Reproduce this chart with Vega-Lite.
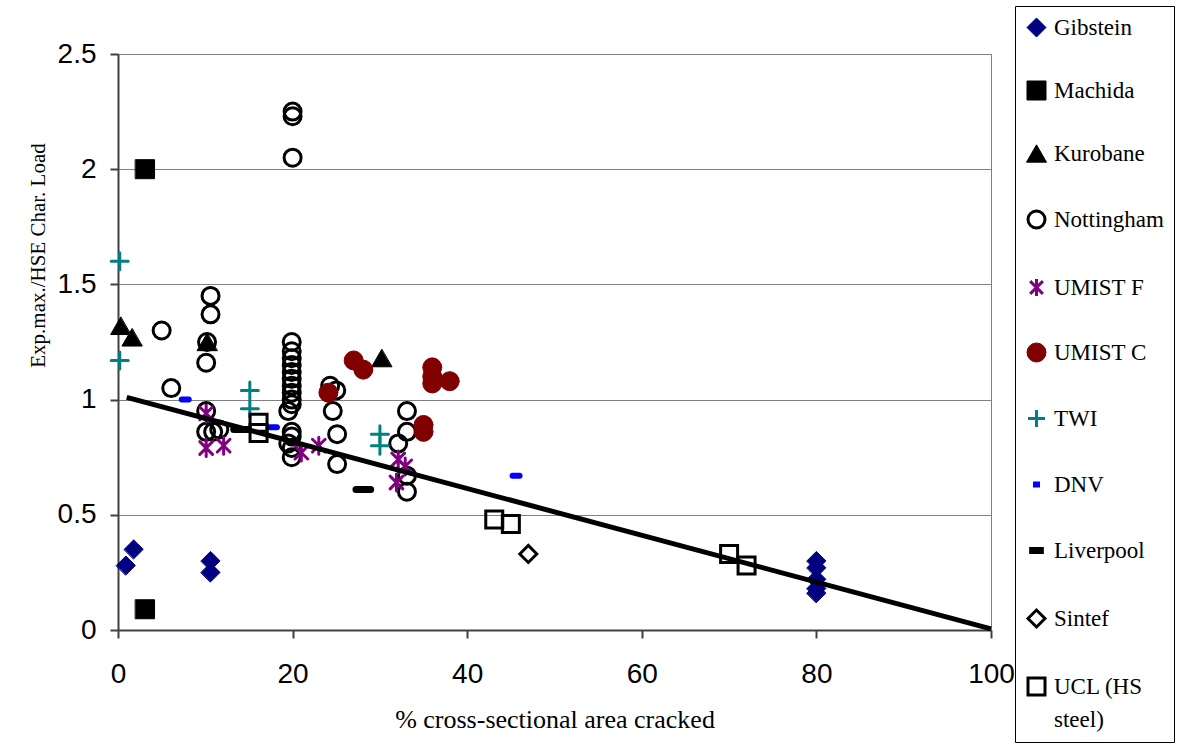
{
  "$schema": "https://vega.github.io/schema/vega-lite/v6.json",
  "width": 873,
  "height": 576,
  "autosize": {"type": "none"},
  "padding": {"left": 118, "top": 54, "right": 198, "bottom": 116},
  "background": "white",
  "config": {
    "view": {"stroke": "#808080", "strokeWidth": 1},
    "legend": {
      "labelFont": "Liberation Serif",
      "labelFontSize": 23,
      "labelColor": "black",
      "labelOffset": 6,
      "labelLimit": 300,
      "rowPadding": 39,
      "padding": 10,
      "strokeColor": "black",
      "fillColor": "white",
      "symbolOpacity": 1
    }
  },
  "datasets": {
    "points": [
      {"series": "Gibstein", "pct": 0.9, "ratio": 0.28},
      {"series": "Gibstein", "pct": 1.8, "ratio": 0.35},
      {"series": "Gibstein", "pct": 10.6, "ratio": 0.30},
      {"series": "Gibstein", "pct": 10.6, "ratio": 0.25},
      {"series": "Gibstein", "pct": 80, "ratio": 0.30},
      {"series": "Gibstein", "pct": 80, "ratio": 0.27},
      {"series": "Gibstein", "pct": 80, "ratio": 0.22},
      {"series": "Gibstein", "pct": 80, "ratio": 0.18},
      {"series": "Gibstein", "pct": 80, "ratio": 0.16},
      {"series": "Machida", "pct": 3.1, "ratio": 2.0},
      {"series": "Machida", "pct": 3.1, "ratio": 0.09},
      {"series": "Kurobane", "pct": 0.3, "ratio": 1.32},
      {"series": "Kurobane", "pct": 1.6, "ratio": 1.27},
      {"series": "Kurobane", "pct": 10.2, "ratio": 1.25},
      {"series": "Kurobane", "pct": 30.2, "ratio": 1.18},
      {"series": "Nottingham", "pct": 5.0, "ratio": 1.30},
      {"series": "Nottingham", "pct": 6.1, "ratio": 1.05},
      {"series": "Nottingham", "pct": 10.6, "ratio": 1.45},
      {"series": "Nottingham", "pct": 10.6, "ratio": 1.37},
      {"series": "Nottingham", "pct": 10.1, "ratio": 1.16},
      {"series": "Nottingham", "pct": 10.2, "ratio": 1.25},
      {"series": "Nottingham", "pct": 10.1, "ratio": 0.95},
      {"series": "Nottingham", "pct": 10.1, "ratio": 0.86},
      {"series": "Nottingham", "pct": 10.9, "ratio": 0.86},
      {"series": "Nottingham", "pct": 11.6, "ratio": 0.87},
      {"series": "Nottingham", "pct": 20, "ratio": 2.25},
      {"series": "Nottingham", "pct": 20, "ratio": 2.23},
      {"series": "Nottingham", "pct": 20, "ratio": 2.05},
      {"series": "Nottingham", "pct": 19.9, "ratio": 1.25},
      {"series": "Nottingham", "pct": 19.9, "ratio": 1.21},
      {"series": "Nottingham", "pct": 19.9, "ratio": 1.18},
      {"series": "Nottingham", "pct": 19.9, "ratio": 1.15},
      {"series": "Nottingham", "pct": 19.9, "ratio": 1.12},
      {"series": "Nottingham", "pct": 19.9, "ratio": 1.09},
      {"series": "Nottingham", "pct": 19.9, "ratio": 1.06},
      {"series": "Nottingham", "pct": 19.9, "ratio": 1.03},
      {"series": "Nottingham", "pct": 19.9, "ratio": 1.0},
      {"series": "Nottingham", "pct": 19.9, "ratio": 0.98},
      {"series": "Nottingham", "pct": 19.5, "ratio": 0.95},
      {"series": "Nottingham", "pct": 19.9, "ratio": 0.86},
      {"series": "Nottingham", "pct": 19.9, "ratio": 0.84},
      {"series": "Nottingham", "pct": 19.5, "ratio": 0.81},
      {"series": "Nottingham", "pct": 19.9, "ratio": 0.79},
      {"series": "Nottingham", "pct": 19.9, "ratio": 0.75},
      {"series": "Nottingham", "pct": 24.3, "ratio": 1.06},
      {"series": "Nottingham", "pct": 25.0, "ratio": 1.04},
      {"series": "Nottingham", "pct": 24.6, "ratio": 0.95},
      {"series": "Nottingham", "pct": 25.1, "ratio": 0.85},
      {"series": "Nottingham", "pct": 25.1, "ratio": 0.72},
      {"series": "Nottingham", "pct": 33.1, "ratio": 0.95},
      {"series": "Nottingham", "pct": 33.1, "ratio": 0.86},
      {"series": "Nottingham", "pct": 32.1, "ratio": 0.81},
      {"series": "Nottingham", "pct": 33.1, "ratio": 0.67},
      {"series": "Nottingham", "pct": 33.1, "ratio": 0.60},
      {"series": "UMIST F", "pct": 10.1, "ratio": 0.94},
      {"series": "UMIST F", "pct": 10.1, "ratio": 0.79},
      {"series": "UMIST F", "pct": 12.1, "ratio": 0.80},
      {"series": "UMIST F", "pct": 21.0, "ratio": 0.77},
      {"series": "UMIST F", "pct": 23.0, "ratio": 0.80},
      {"series": "UMIST F", "pct": 32.1, "ratio": 0.74},
      {"series": "UMIST F", "pct": 32.9, "ratio": 0.71},
      {"series": "UMIST F", "pct": 31.9, "ratio": 0.64},
      {"series": "UMIST C", "pct": 24.1, "ratio": 1.03},
      {"series": "UMIST C", "pct": 27.0, "ratio": 1.17},
      {"series": "UMIST C", "pct": 28.1, "ratio": 1.13},
      {"series": "UMIST C", "pct": 36.0, "ratio": 1.14},
      {"series": "UMIST C", "pct": 36.0, "ratio": 1.10},
      {"series": "UMIST C", "pct": 36.0, "ratio": 1.07},
      {"series": "UMIST C", "pct": 38.0, "ratio": 1.08},
      {"series": "UMIST C", "pct": 35.0, "ratio": 0.89},
      {"series": "UMIST C", "pct": 35.0, "ratio": 0.86},
      {"series": "TWI", "pct": 0.2, "ratio": 1.60},
      {"series": "TWI", "pct": 0.2, "ratio": 1.17},
      {"series": "TWI", "pct": 15.1, "ratio": 1.04},
      {"series": "TWI", "pct": 15.1, "ratio": 0.96},
      {"series": "TWI", "pct": 30.0, "ratio": 0.85},
      {"series": "TWI", "pct": 30.0, "ratio": 0.80},
      {"series": "DNV", "pct": 7.7, "ratio": 1.0},
      {"series": "DNV", "pct": 17.8, "ratio": 0.88},
      {"series": "DNV", "pct": 45.6, "ratio": 0.67},
      {"series": "Liverpool", "pct": 14.1, "ratio": 0.87},
      {"series": "Liverpool", "pct": 28.1, "ratio": 0.61},
      {"series": "Sintef", "pct": 47.0, "ratio": 0.33},
      {"series": "UCL (HS steel)", "pct": 16.1, "ratio": 0.90},
      {"series": "UCL (HS steel)", "pct": 16.1, "ratio": 0.855},
      {"series": "UCL (HS steel)", "pct": 43.1, "ratio": 0.48},
      {"series": "UCL (HS steel)", "pct": 45.0, "ratio": 0.46},
      {"series": "UCL (HS steel)", "pct": 70.0, "ratio": 0.33},
      {"series": "UCL (HS steel)", "pct": 72.0, "ratio": 0.28}
    ],
    "trend": [
      {"pct": 1, "ratio": 1.01},
      {"pct": 100, "ratio": 0.005}
    ]
  },
  "layer": [
    {
      "data": {"name": "points"},
      "mark": {"type": "point", "opacity": 1, "strokeCap": "round"},
      "encoding": {
        "x": {
          "field": "pct", "type": "quantitative",
          "scale": {"domain": [0, 100], "nice": false, "zero": false},
          "axis": {
            "values": [0, 20, 40, 60, 80, 100],
            "title": "% cross-sectional area cracked",
            "grid": false,
            "domainColor": "#404040", "domainWidth": 2,
            "tickColor": "#404040", "tickWidth": 2, "tickSize": 8,
            "labelFont": "Liberation Sans", "labelFontSize": 28, "labelColor": "black",
            "labelPadding": 22, "labelFlush": false, "labelOverlap": false,
            "titleFont": "Liberation Serif", "titleFontSize": 26, "titleFontWeight": "normal",
            "titleColor": "black", "titlePadding": 18
          }
        },
        "y": {
          "field": "ratio", "type": "quantitative",
          "scale": {"domain": [0, 2.5], "nice": false},
          "axis": {
            "values": [0, 0.5, 1, 1.5, 2, 2.5],
            "format": "~g",
            "title": "Exp.max./HSE Char. Load",
            "grid": true, "gridColor": "#808080", "gridWidth": 1,
            "domainColor": "#404040", "domainWidth": 2,
            "tickColor": "#404040", "tickWidth": 2, "tickSize": 8,
            "labelFont": "Liberation Sans", "labelFontSize": 28, "labelColor": "black",
            "labelPadding": 14, "labelOverlap": false,
            "titleFont": "Liberation Serif", "titleFontSize": 21, "titleFontWeight": "normal",
            "titleColor": "black", "titleX": -70, "titleY": 201, "titleBaseline": "bottom"
          }
        },
        "shape": {
          "field": "series", "type": "nominal",
          "scale": {
            "domain": ["Gibstein", "Machida", "Kurobane", "Nottingham", "UMIST F", "UMIST C", "TWI", "DNV", "Liverpool", "Sintef", "UCL (HS steel)"],
            "range": ["diamond", "square", "triangle-up", "circle", "M0,-1L0,1M-0.75,-0.75L0.75,0.75M-0.75,0.75L0.75,-0.75", "circle", "M-1,0L1,0M0,-1L0,1", "M-1,0L1,0", "M-1,0L1,0", "diamond", "square"]
          },
          "legend": {
            "title": null, "orient": "none", "legendX": 897, "legendY": -48,
            "labelExpr": "datum.label == 'UCL (HS steel)' ? ['UCL (HS', 'steel)'] : datum.label",
            "encode": {"labels": {"update": {"lineHeight": {"value": 33}}}}
          }
        },
        "fill": {
          "field": "series", "type": "nominal",
          "scale": {
            "domain": ["Gibstein", "Machida", "Kurobane", "Nottingham", "UMIST F", "UMIST C", "TWI", "DNV", "Liverpool", "Sintef", "UCL (HS steel)"],
            "range": ["#000080", "#000000", "#000000", "transparent", "transparent", "#800000", "transparent", "transparent", "transparent", "transparent", "transparent"]
          },
          "legend": {
            "title": null, "orient": "none", "legendX": 897, "legendY": -48,
            "labelExpr": "datum.label == 'UCL (HS steel)' ? ['UCL (HS', 'steel)'] : datum.label",
            "encode": {"labels": {"update": {"lineHeight": {"value": 33}}}}
          }
        },
        "stroke": {
          "field": "series", "type": "nominal",
          "scale": {
            "domain": ["Gibstein", "Machida", "Kurobane", "Nottingham", "UMIST F", "UMIST C", "TWI", "DNV", "Liverpool", "Sintef", "UCL (HS steel)"],
            "range": ["#000080", "#000000", "#000000", "#000000", "#800080", "#800000", "#008080", "#0000FF", "#000000", "#000000", "#000000"]
          },
          "legend": {
            "title": null, "orient": "none", "legendX": 897, "legendY": -48,
            "labelExpr": "datum.label == 'UCL (HS steel)' ? ['UCL (HS', 'steel)'] : datum.label",
            "encode": {"labels": {"update": {"lineHeight": {"value": 33}}}}
          }
        },
        "size": {
          "field": "series", "type": "nominal",
          "scale": {
            "type": "ordinal",
            "domain": ["Gibstein", "Machida", "Kurobane", "Nottingham", "UMIST F", "UMIST C", "TWI", "DNV", "Liverpool", "Sintef", "UCL (HS steel)"],
            "range": [361, 361, 400, 289, 289, 361, 289, 49, 216, 289, 289]
          },
          "legend": {
            "title": null, "orient": "none", "legendX": 897, "legendY": -48,
            "labelExpr": "datum.label == 'UCL (HS steel)' ? ['UCL (HS', 'steel)'] : datum.label",
            "encode": {"labels": {"update": {"lineHeight": {"value": 33}}}}
          }
        },
        "strokeWidth": {
          "field": "series", "type": "nominal",
          "scale": {
            "type": "ordinal",
            "domain": ["Gibstein", "Machida", "Kurobane", "Nottingham", "UMIST F", "UMIST C", "TWI", "DNV", "Liverpool", "Sintef", "UCL (HS steel)"],
            "range": [1, 1, 1, 3, 3, 1, 3, 6, 7, 3, 3]
          },
          "legend": {
            "title": null, "orient": "none", "legendX": 897, "legendY": -48,
            "labelExpr": "datum.label == 'UCL (HS steel)' ? ['UCL (HS', 'steel)'] : datum.label",
            "encode": {"labels": {"update": {"lineHeight": {"value": 33}}}}
          }
        }
      }
    },
    {
      "data": {"name": "trend"},
      "mark": {"type": "line", "color": "black", "strokeWidth": 5},
      "encoding": {
        "x": {"field": "pct", "type": "quantitative"},
        "y": {"field": "ratio", "type": "quantitative"}
      }
    }
  ]
}
